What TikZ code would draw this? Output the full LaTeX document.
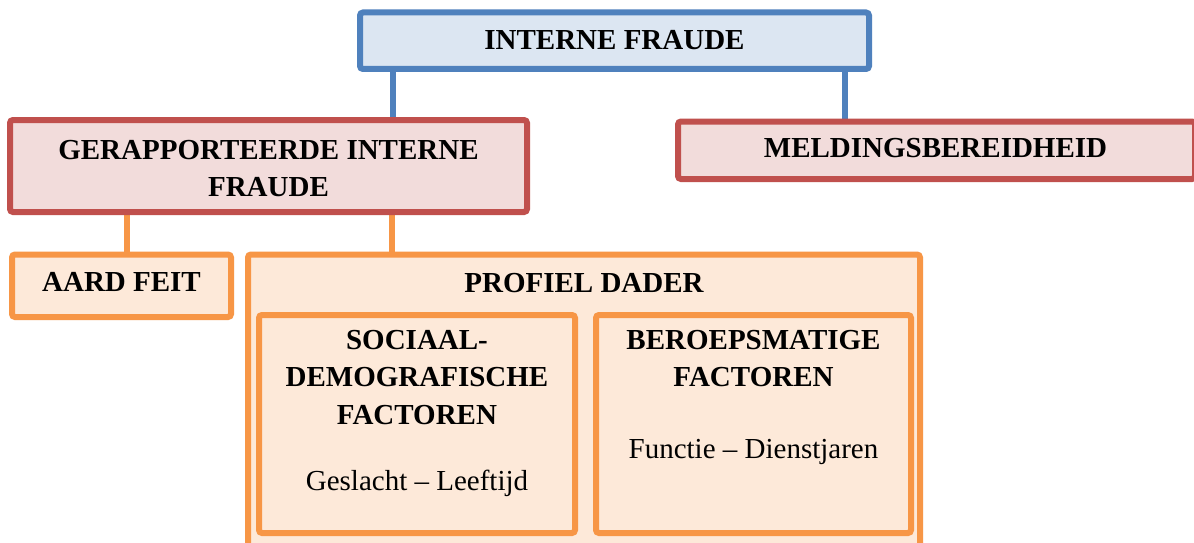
\documentclass[tikz,border=0pt]{standalone}
\usepackage{fontspec}
\setmainfont{Liberation Serif}
\newfontfamily\boxfont{Liberation Serif}
\usetikzlibrary{backgrounds}
\definecolor{bluedge}{HTML}{4F81BD}
\definecolor{bluefill}{HTML}{DCE6F2}
\definecolor{rededge}{HTML}{C0504D}
\definecolor{redfill}{HTML}{F2DCDB}
\definecolor{orgedge}{HTML}{F79646}
\definecolor{orgfill}{HTML}{FDE9D9}
\tikzset{
  box/.style={draw, line width=6pt, rounded corners=3pt, inner sep=0pt, anchor=center},
  bluebox/.style={box, draw=bluedge, fill=bluefill},
  redbox/.style={box, draw=rededge, fill=redfill},
  orgbox/.style={box, draw=orgedge, fill=orgfill},
  link/.style={line width=6pt},
  title/.style={font=\boxfont\fontsize{29}{37.5}\selectfont\bfseries, inner sep=0pt, anchor=base},
  detail/.style={font=\boxfont\fontsize{29}{37.5}\selectfont, inner sep=0pt, anchor=base},
}
\begin{document}
\begin{tikzpicture}[x=1pt, y=-1pt]
  \clip (0,0) rectangle (1194,543);

  % boxes
  \node[bluebox, minimum width=509pt, minimum height=56.5pt] (top) at (614.5,40.75) {};
  \node[redbox, minimum width=517pt, minimum height=92pt] (rep) at (268.5,166) {};
  \node[redbox, minimum width=517pt, minimum height=57.5pt] (meld) at (936.5,150.25) {};
  \node[orgbox, minimum width=219pt, minimum height=62.5pt] (aard) at (121.5,285.75) {};
  \node[orgbox, minimum width=672pt, minimum height=310pt] (prof) at (584,409.5) {};
  \node[orgbox, minimum width=316pt, minimum height=218pt] (soc) at (417,424) {};
  \node[orgbox, minimum width=315pt, minimum height=218pt] (ber) at (753.5,424) {};

  % connectors behind the boxes
  \begin{scope}[on background layer]
    \fill[white] (0,0) rectangle (1194,543);
    \draw[link, bluedge] (top.south -| 393,0) -- (rep.north -| 393,0);
    \draw[link, bluedge] (top.south -| 845,0) -- (meld.north -| 845,0);
    \draw[link, orgedge] (rep.south -| 127,0) -- (aard.north -| 127,0);
    \draw[link, orgedge] (rep.south -| 392,0) -- (prof.north -| 392,0);
  \end{scope}

  % labels
  \node[title] (ttop) at (614.5,50) {INTERNE FRAUDE};
  \node[title] (trep) at (268.5,159) {\begin{tabular}[t]{@{}c@{}}GERAPPORTEERDE INTERNE\\FRAUDE\end{tabular}};
  \node[title] (tmeld) at (935.5,157) {MELDINGSBEREIDHEID};
  \node[title] (taard) at (121.5,291) {AARD FEIT};
  \node[title] (tprof) at (584,292) {PROFIEL DADER};
  \node[title] (tsoc) at (417,349) {\begin{tabular}[t]{@{}c@{}}SOCIAAL-\\DEMOGRAFISCHE\\FACTOREN\end{tabular}};
  \node[detail] (dsoc) at (417,490) {Geslacht – Leeftijd};
  \node[title] (tber) at (753.5,349) {\begin{tabular}[t]{@{}c@{}}BEROEPSMATIGE\\FACTOREN\end{tabular}};
  \node[detail] (dber) at (753.5,458) {Functie – Dienstjaren};
\end{tikzpicture}
\end{document}
